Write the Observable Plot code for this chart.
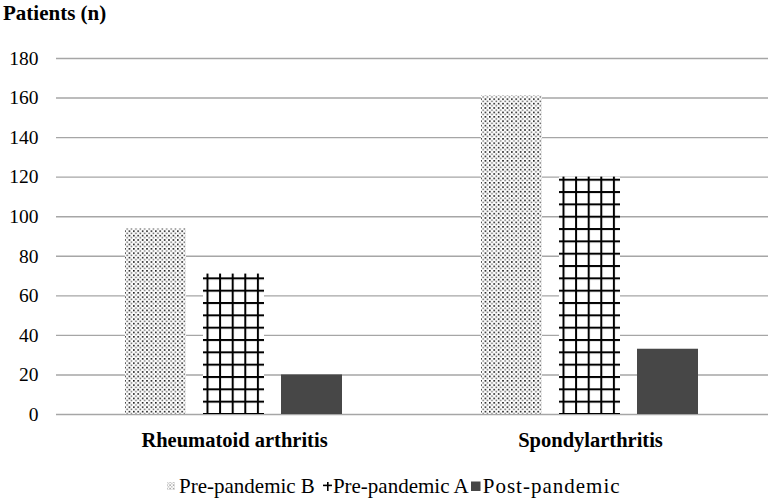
<!DOCTYPE html>
<html><head><meta charset="utf-8">
<script src="https://cdn.jsdelivr.net/npm/d3@7"></script>
<script src="https://cdn.jsdelivr.net/npm/@observablehq/plot@0.6"></script>
</head>
<body style="margin:0;background:#fff;color:#000;font-family:'Liberation Serif'">
<div id="wrap" style="width:768px;height:499px;position:relative;overflow:hidden;background:#fff;font-family:'Liberation Serif'">
  <div id="title" style="height:28px;line-height:26px;padding-left:3px;font-weight:bold;font-size:21px;font-family:'Liberation Serif'">Patients (n)</div>
  <div id="chart" style="height:442px"></div>
  <div id="legend" style="position:absolute;left:166px;top:470px;height:32px;display:flex;align-items:center;font-size:21px;white-space:nowrap;font-family:'Liberation Serif'"></div>
</div>
<script>
const categories = ["Rheumatoid arthritis", "Spondylarthritis"];
const series = ["Pre-pandemic B", "Pre-pandemic A", "Post-pandemic"];
const prePandemicB = [94, 161];
const prePandemicA = [71, 120];
const postPandemic = [20, 33];
const yTicks = [0, 20, 40, 60, 80, 100, 120, 140, 160, 180];
const fills = ["url(#dots)", "url(#grid)", "#474747"];
const FONT = "Liberation Serif";

const values = [prePandemicB, prePandemicA, postPandemic];
const data = categories.flatMap((c, i) => series.map((s, j) => ({category: c, series: s, value: values[j][i]})));

const chart = Plot.plot({
  width: 768,
  height: 442,
  marginLeft: 55,
  marginRight: 0,
  marginTop: 30,
  marginBottom: 56,
  style: {fontFamily: FONT, fontSize: "19.5px", color: "#000", background: "#fff", overflow: "visible"},
  fx: {domain: categories, padding: 0, label: null, axis: null},
  x: {domain: series, axis: null, paddingInner: 0.215, paddingOuter: 0.864},
  y: {domain: [0, 180], label: null, axis: null},
  color: {domain: series, range: fills},
  marks: [
    Plot.gridY(yTicks, {stroke: "#a6a6a6", strokeOpacity: 1, strokeWidth: 1.4}),
    Plot.barY(data, {fx: "category", x: "series", y: "value", fill: "series"}),
    Plot.axisY(yTicks, {tickSize: 0, tickPadding: 18, label: null, fontSize: 19.5, fill: "#000", fontFamily: FONT}),
    Plot.axisFx({anchor: "bottom", tickSize: 0, tickPadding: 18, label: null, fontSize: 20.5, fontWeight: "bold", fill: "#000", fontFamily: FONT})
  ]
});

const NS = "http://www.w3.org/2000/svg";
function el(tag, attrs, parent) {
  const e = document.createElementNS(NS, tag);
  for (const k in attrs) e.setAttribute(k, attrs[k]);
  if (parent) parent.appendChild(e);
  return e;
}
const defs = el("defs", {});
chart.insertBefore(defs, chart.firstChild);
const dots = el("pattern", {id: "dots", patternUnits: "userSpaceOnUse", width: 4.4, height: 4.4}, defs);
el("rect", {x: 0, y: 0, width: 4.4, height: 4.4, fill: "#fff"}, dots);
el("rect", {x: 0, y: 0, width: 1.6, height: 1.6, fill: "#1a1a1a"}, dots);
el("rect", {x: 2.2, y: 2.2, width: 1.5, height: 1.5, fill: "#666"}, dots);
const GW = 12.6, GH = 12.33;
const grid = el("pattern", {id: "grid", patternUnits: "userSpaceOnUse", width: GW, height: GH}, defs);
el("rect", {x: 0, y: 0, width: GW, height: GH, fill: "#fff"}, grid);
el("rect", {x: 0, y: 0, width: 2, height: GH, fill: "#000"}, grid);
el("rect", {x: 0, y: 0, width: GW, height: 2, fill: "#000"}, grid);

document.getElementById("chart").appendChild(chart);

const gridRect = chart.querySelector('rect[fill="url(#grid)"]');
if (gridRect) {
  const rx = +gridRect.getAttribute("x");
  const bottom = +gridRect.getAttribute("y") + +gridRect.getAttribute("height");
  grid.setAttribute("x", rx + 4.5 - 1);
  grid.setAttribute("y", bottom - 1);
}

const legend = document.getElementById("legend");
const itemGap = [8, 2, 0];
const swatchGap = [3, 0, 2];
series.forEach((s, i) => {
  const item = document.createElement("div");
  item.style.cssText = "display:flex;align-items:center;margin-right:" + itemGap[i] + "px";
  const sw = el("svg", {width: 10, height: 10, viewBox: "0 0 10 10"});
  sw.style.marginRight = swatchGap[i] + "px";
  if (i === 0) {
    const p = el("pattern", {id: "dotsLeg", patternUnits: "userSpaceOnUse", width: 3.4, height: 3.4}, el("defs", {}, sw));
    el("rect", {x: 0.2, y: 0.2, width: 1.2, height: 1.2, fill: "#555"}, p);
    el("rect", {x: 1.9, y: 1.9, width: 1.1, height: 1.1, fill: "#999"}, p);
    el("rect", {x: 1, y: 1, width: 8, height: 8, fill: "url(#dotsLeg)"}, sw);
  } else if (i === 1) {
    el("rect", {x: 4, y: 1, width: 1.6, height: 9, fill: "#000"}, sw);
    el("rect", {x: 0, y: 3.6, width: 9, height: 1.6, fill: "#000"}, sw);
  } else {
    el("rect", {x: 0, y: 0.5, width: 9.5, height: 9.5, fill: fills[2]}, sw);
  }
  item.appendChild(sw);
  const t = document.createElement("span");
  t.textContent = s;
  t.style.fontFamily = "'Liberation Serif'";
  if (i === 2) t.style.letterSpacing = "1px";
  item.appendChild(t);
  legend.appendChild(item);
});
</script>
</body></html>
